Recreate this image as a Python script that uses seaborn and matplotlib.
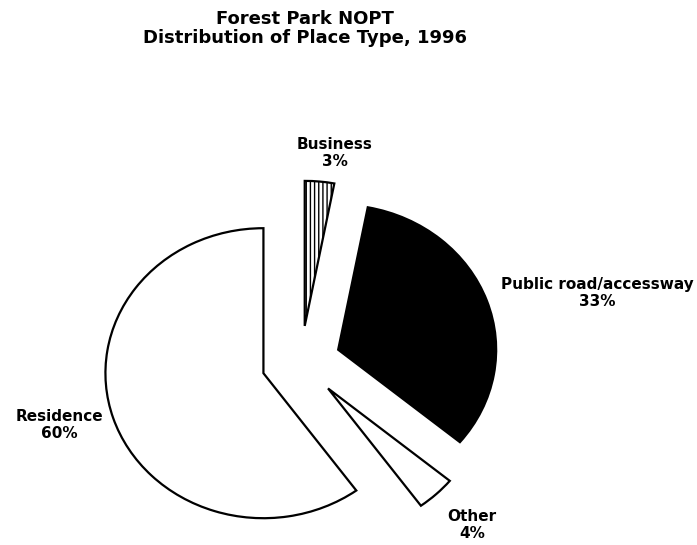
import matplotlib
matplotlib.use('Agg')
import matplotlib.pyplot as plt
import seaborn as sns

# Data
place_types = ['Business', 'Public road/accessway', 'Other', 'Residence']
percents = [3, 33, 4, 60]
explode = [0.25, 0.25, 0.25, 0.25]
face_colors = ['white', 'black', 'white', 'white']
hatches = ['||||', '', '', '']

# Label positions (pie units, radius = 1)
label_pos = [(0.215, 1.44), (1.873, 0.476), (1.082, -1.124), (-1.532, -0.434)]

sns.set_theme(style='white')
plt.rcParams['font.family'] = ['DejaVu Sans']
plt.rcParams['hatch.linewidth'] = 1.0

fig = plt.figure(figsize=(6.97, 5.45), dpi=100, facecolor='w')
ax = fig.add_axes([0, 0, 1, 1])

wedges, texts = ax.pie(
    percents, explode=explode, startangle=90, counterclock=False,
    colors=face_colors, labels=[f'{p}\n{v}%' for p, v in zip(place_types, percents)],
    wedgeprops=dict(edgecolor='black', linewidth=1.6),
    textprops=dict(fontsize=11, fontweight='bold', color='black',
                   ha='center', va='center', linespacing=1.15)
)
for w, h in zip(wedges, hatches):
    if h:
        w.set_hatch(h)
for t, pos in zip(texts, label_pos):
    t.set_position(pos)
    t.set_horizontalalignment('center')

# Stretch slightly wider than tall, like the original
ax.set_aspect('auto')
ax.set_xlim(-301 / 158, (697 - 301) / 158)
ax.set_ylim(-183 / 145, 362 / 145)
ax.axis('off')

fig.text(305 / 697, 1 - 10 / 545, 'Forest Park NOPT\nDistribution of Place Type, 1996',
         ha='center', va='top', fontsize=13, fontweight='bold', color='black', linespacing=1.1)

plt.savefig('out.png', dpi=100, facecolor='w')
